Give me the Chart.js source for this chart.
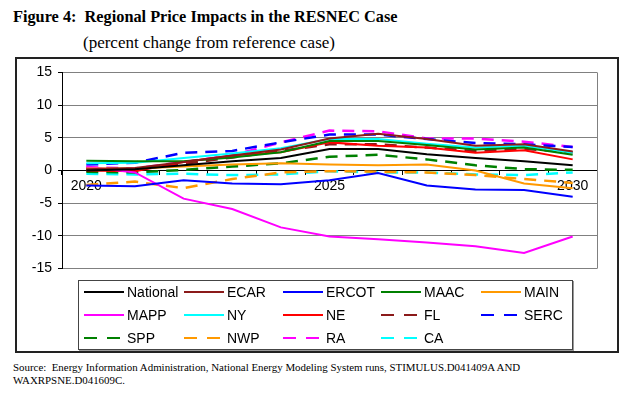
<!DOCTYPE html>
<html>
<head>
<meta charset="utf-8">
<script src="https://cdn.jsdelivr.net/npm/chart.js@4.4.1/dist/chart.umd.min.js"></script>
<style>
body{margin:0;background:#fff;width:631px;height:394px;position:relative;overflow:hidden;font-family:"Liberation Sans",Arial,sans-serif;}
#title{position:absolute;left:13px;top:7px;font:bold 16.3px "Liberation Serif","Times New Roman",serif;white-space:nowrap;}
#subtitle{position:absolute;left:83px;top:33px;font:17px "Liberation Serif","Times New Roman",serif;white-space:nowrap;}
#box{position:absolute;left:15px;top:57px;width:600px;height:292px;border:2px solid #222;}
#wrap{position:absolute;left:16px;top:58px;width:602px;height:225px;}
#legend{position:absolute;left:78px;top:280px;width:493px;height:68px;border:1px solid #444;box-shadow:1px 1px 0 #999;background:#fff;}
.item{position:absolute;height:18px;font-size:14px;line-height:18px;white-space:nowrap;color:#000;}
.item svg{vertical-align:middle;margin-right:3px;margin-top:-2px;}
#source{position:absolute;left:13px;top:361px;font:10.9px "Liberation Serif","Times New Roman",serif;line-height:13px;white-space:nowrap;}
</style>
</head>
<body>
<div id="title">Figure 4:&nbsp; Regional Price Impacts in the RESNEC Case</div>
<div id="subtitle">(percent change from reference case)</div>
<div id="box"></div>
<div id="wrap"><canvas id="priceChart" width="602" height="225"></canvas></div>
<div id="legend"></div>
<div id="source">Source:&nbsp; Energy Information Administration, National Energy Modeling System runs, STIMULUS.D041409A AND<br>WAXRPSNE.D041609C.</div>
<script>
// percent change from reference case, 2020-2030
var years = ["2020","2021","2022","2023","2024","2025","2026","2027","2028","2029","2030"];
var yTicks = [-15, -10, -5, 0, 5, 10, 15];

var national = [0.0, 0.2, 0.8, 1.4, 1.9, 3.3, 3.3, 2.5, 1.9, 1.4, 0.8];
var ecar     = [0.2, 0.4, 1.3, 2.3, 3.2, 4.9, 5.6, 4.8, 3.8, 4.0, 2.9];
var ercot    = [-2.3, -2.4, -1.5, -2.0, -2.1, -1.5, -0.4, -2.3, -2.9, -3.0, -4.0];
var maac     = [1.5, 1.4, 1.4, 2.0, 2.8, 4.5, 4.5, 3.9, 3.2, 3.5, 2.4];
var main     = [0.3, 0.3, 0.6, 0.9, 1.1, 0.9, 0.8, 0.9, 0.0, -2.0, -2.7];
var mapp     = [0.6, -0.3, -4.3, -5.9, -8.7, -10.1, -10.5, -11.0, -11.6, -12.6, -10.1];
var ny       = [1.1, 1.2, 1.9, 2.6, 3.4, 4.8, 4.8, 4.1, 3.5, 3.8, 2.7];
var ne       = [0.0, -0.1, 1.3, 2.3, 2.8, 4.3, 3.8, 3.5, 2.7, 3.1, 1.7];
var fl       = [0.3, 0.2, 1.0, 2.0, 3.0, 4.0, 4.0, 3.5, 3.0, 3.3, 2.8];
var serc     = [0.9, 1.2, 2.7, 3.0, 4.3, 5.5, 5.5, 4.8, 4.2, 4.0, 3.6];
var spp      = [-0.2, -0.3, 0.1, 0.6, 1.1, 2.1, 2.4, 1.7, 0.8, 0.2, 0.1];
var nwp      = [-2.2, -1.7, -2.7, -1.3, -0.3, -0.1, -0.2, -0.3, -0.7, -1.3, -1.9];
var ra       = [0.5, 0.3, 1.3, 2.3, 4.3, 6.1, 6.0, 4.9, 4.9, 4.4, 3.6];
var ca       = [-0.5, -0.6, -0.5, -0.7, -0.6, -0.1, -0.3, -0.3, -0.6, -0.7, -0.3];

function line(label, data, color, dashed){
    return {
        label: label,
        data: data,
        borderColor: color,
        backgroundColor: color,
        borderWidth: dashed ? 2.5 : 2,
        borderDash: dashed ? [12, 8] : [],
        pointRadius: 0,
        tension: 0,
        fill: false
    };
}

var datasets = [
    line("National", national, "#000000", false),
    line("ECAR", ecar, "#8b1a1a", false),
    line("ERCOT", ercot, "#0000ff", false),
    line("MAAC", maac, "#008000", false),
    line("MAIN", main, "#ff9900", false),
    line("MAPP", mapp, "#ff00ff", false),
    line("NY", ny, "#00ffff", false),
    line("NE", ne, "#ff0000", false),
    line("FL", fl, "#8b1a1a", true),
    line("SERC", serc, "#0000ff", true),
    line("SPP", spp, "#008000", true),
    line("NWP", nwp, "#ff9900", true),
    line("RA", ra, "#ff00ff", true),
    line("CA", ca, "#00ffff", true)
];

// grey right edge of the plot area
var plotBorder = {
    id: "plotBorder",
    beforeDatasetsDraw: function(chart){
        var a = chart.chartArea, c = chart.ctx;
        c.save();
        c.strokeStyle = "#808080";
        c.lineWidth = 1;
        c.beginPath();
        c.moveTo(Math.round(a.right) + 0.5, a.top);
        c.lineTo(Math.round(a.right) + 0.5, a.bottom);
        c.stroke();
        c.restore();
    }
};

var axisFont = { family: "'Liberation Sans', Arial, sans-serif", size: 14 };

var chart = new Chart(document.getElementById("priceChart"), {
    type: "line",
    data: { labels: years, datasets: datasets },
    options: {
        responsive: false,
        animation: false,
        devicePixelRatio: 1,
        layout: { padding: { left: 0, top: 14, right: 21, bottom: 13 } },
        plugins: { legend: { display: false }, tooltip: { enabled: false } },
        scales: {
            x: {
                type: "category",
                offset: true,
                position: { y: 0 },
                grid: { display: true, drawOnChartArea: false, offset: true, tickLength: 4, tickColor: "#000" },
                border: { display: true, color: "#000", width: 1 },
                ticks: {
                    autoSkip: false, maxRotation: 0, color: "#000", font: axisFont, padding: 3,
                    callback: function(v, i){ return i % 5 === 0 ? years[i] : ""; }
                },
                afterFit: function(s){ s.height = 0; }
            },
            y: {
                min: -15, max: 15,
                grid: { color: "#808080", lineWidth: 1, tickLength: 4, tickColor: "#000" },
                border: { display: true, color: "#000", width: 1 },
                ticks: { stepSize: 5, color: "#000", font: axisFont, padding: 6 },
                afterBuildTicks: function(s){ s.ticks = yTicks.map(function(v){ return { value: v }; }); },
                afterFit: function(s){ s.width = 46; }
            }
        }
    },
    plugins: [plotBorder]
});

// legend laid out as a 5-column grid like the original
var legend = document.getElementById("legend");
var colX = [5, 105, 204, 302, 402];
var rowY = [2, 25, 48];
datasets.forEach(function(ds, i){
    var item = document.createElement("div");
    item.className = "item";
    item.style.left = colX[i % 5] + "px";
    item.style.top = rowY[Math.floor(i / 5)] + "px";
    var dash = ds.borderDash.length ? ' stroke-dasharray="13 10"' : '';
    item.innerHTML = '<svg width="40" height="6"><line x1="0" y1="3" x2="40" y2="3" stroke="' + ds.borderColor +
        '" stroke-width="2"' + dash + '/></svg>' + ds.label;
    legend.appendChild(item);
});
</script>
</body>
</html>
